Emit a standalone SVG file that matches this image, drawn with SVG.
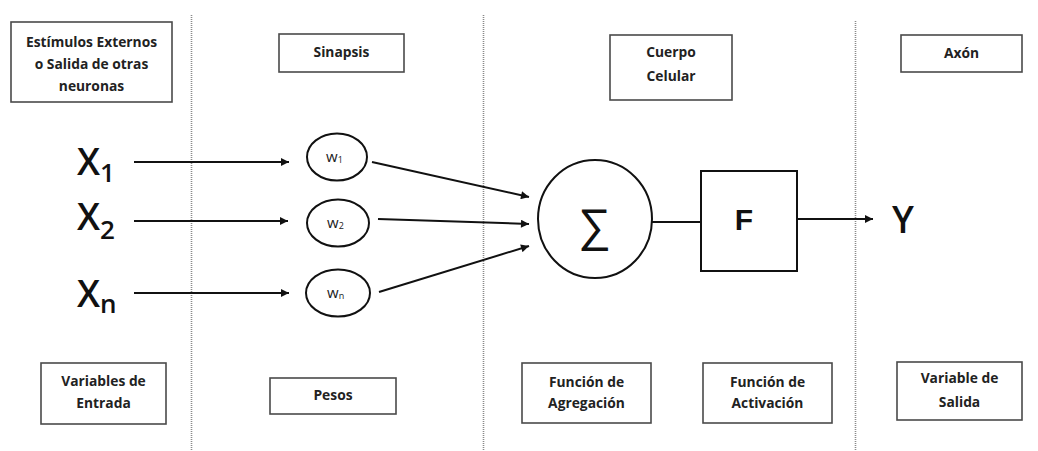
<svg xmlns="http://www.w3.org/2000/svg" width="1038" height="451" viewBox="0 0 1038 451">
<style>
.box{fill:#fff;stroke:#4a4a4a;stroke-width:1.6}
.lbl{font-family:"Open Sans","Liberation Sans",sans-serif;font-weight:bold;font-size:13.8px;fill:#222;text-anchor:middle}
.div{stroke:#8a8a8a;stroke-width:1.6;stroke-dasharray:1 1}
.big{font-family:"Open Sans","Liberation Sans",sans-serif;font-weight:600;font-size:37px;fill:#111}
.sub{font-size:26px}
.wt{font-family:"Open Sans","Liberation Sans",sans-serif;font-size:15px;fill:#222}
.ws{font-size:9px}
.shape{fill:#fff;stroke:#111;stroke-width:2}
.con{stroke:#111;stroke-width:2;fill:none}
</style>
<defs>
<marker id="ah" viewBox="0 0 10 10" refX="10" refY="5" markerWidth="9" markerHeight="8" markerUnits="userSpaceOnUse" orient="auto">
<path d="M0,0 L10,5 L0,10 z" fill="#111"/>
</marker>
</defs>
<rect width="1038" height="451" fill="#fff"/>
<g id="dividers">
<line class="div" x1="191.5" y1="15" x2="191.5" y2="451"/>
<line class="div" x1="483.5" y1="15" x2="483.5" y2="451"/>
<line class="div" x1="855.5" y1="21" x2="855.5" y2="451"/>
</g>
<g id="estimulos"><rect class="box" x="11" y="22" width="161" height="80"/>
<text class="lbl" x="91.5" y="47">Estímulos Externos</text>
<text class="lbl" x="91.5" y="69">o Salida de otras</text>
<text class="lbl" x="91.5" y="91">neuronas</text></g>
<g id="sinapsis"><rect class="box" x="279" y="34" width="125" height="38"/>
<text class="lbl" x="341.5" y="57">Sinapsis</text></g>
<g id="cuerpo"><rect class="box" x="610" y="35" width="122" height="65"/>
<text class="lbl" x="671" y="57">Cuerpo</text>
<text class="lbl" x="671" y="81">Celular</text></g>
<g id="axon"><rect class="box" x="901" y="35" width="121" height="37"/>
<text class="lbl" x="961.5" y="58">Axón</text></g>
<g id="x1"><text class="big" x="77" y="175">X<tspan class="sub" dy="7">1</tspan></text></g>
<g id="x2"><text class="big" x="77" y="230">X<tspan class="sub" dy="9">2</tspan></text></g>
<g id="xn"><text class="big" x="77" y="307">X<tspan class="sub" dy="6">n</tspan></text></g>
<g id="w1"><ellipse class="shape" cx="337" cy="157" rx="30" ry="23.5"/>
<text class="wt" x="326" y="162">w<tspan class="ws" dy="1">1</tspan></text></g>
<g id="w2"><ellipse class="shape" cx="338" cy="223" rx="31" ry="23.5"/>
<text class="wt" x="327" y="228">w<tspan class="ws" dy="1">2</tspan></text></g>
<g id="wn"><ellipse class="shape" cx="338" cy="293" rx="32" ry="23.5"/>
<text class="wt" x="327" y="298">w<tspan class="ws" dy="1">n</tspan></text></g>
<g id="suma"><ellipse class="shape" cx="595" cy="219" rx="57" ry="59"/>
<text x="594.5" y="241" font-family="'Liberation Sans',sans-serif" font-size="46" fill="#111" text-anchor="middle">∑</text></g>
<g id="f"><rect class="shape" x="701" y="171" width="96" height="100"/>
<text x="744" y="230" font-family="'Liberation Sans',sans-serif" font-weight="bold" font-size="30" fill="#111" text-anchor="middle">F</text></g>
<g id="y"><text class="big" x="892" y="233">Y</text></g>
<g id="connectors">
<line class="con" x1="134" y1="162" x2="289" y2="162" marker-end="url(#ah)"/>
<line class="con" x1="134" y1="221" x2="288" y2="221" marker-end="url(#ah)"/>
<line class="con" x1="134" y1="293" x2="289" y2="293" marker-end="url(#ah)"/>
<line class="con" x1="372" y1="162" x2="529" y2="197" marker-end="url(#ah)"/>
<line class="con" x1="378" y1="219" x2="529" y2="224" marker-end="url(#ah)"/>
<line class="con" x1="379" y1="292" x2="529" y2="246" marker-end="url(#ah)"/>
<line class="con" x1="652" y1="222" x2="701" y2="222"/>
<line class="con" x1="797" y1="219" x2="873" y2="219" marker-end="url(#ah)"/>
</g>
<g id="variables"><rect class="box" x="41" y="363" width="125" height="61"/>
<text class="lbl" x="103.5" y="386">Variables de</text>
<text class="lbl" x="103.5" y="408">Entrada</text></g>
<g id="pesos"><rect class="box" x="270" y="378" width="126" height="36"/>
<text class="lbl" x="333" y="400">Pesos</text></g>
<g id="agregacion"><rect class="box" x="522" y="363" width="129" height="60"/>
<text class="lbl" x="586.5" y="387">Función de</text>
<text class="lbl" x="586.5" y="408">Agregación</text></g>
<g id="activacion"><rect class="box" x="703" y="363" width="129" height="60"/>
<text class="lbl" x="767.5" y="387">Función de</text>
<text class="lbl" x="767.5" y="408">Activación</text></g>
<g id="salida"><rect class="box" x="897" y="362" width="125" height="58"/>
<text class="lbl" x="959.5" y="383">Variable de</text>
<text class="lbl" x="959.5" y="407">Salida</text></g>
</svg>
